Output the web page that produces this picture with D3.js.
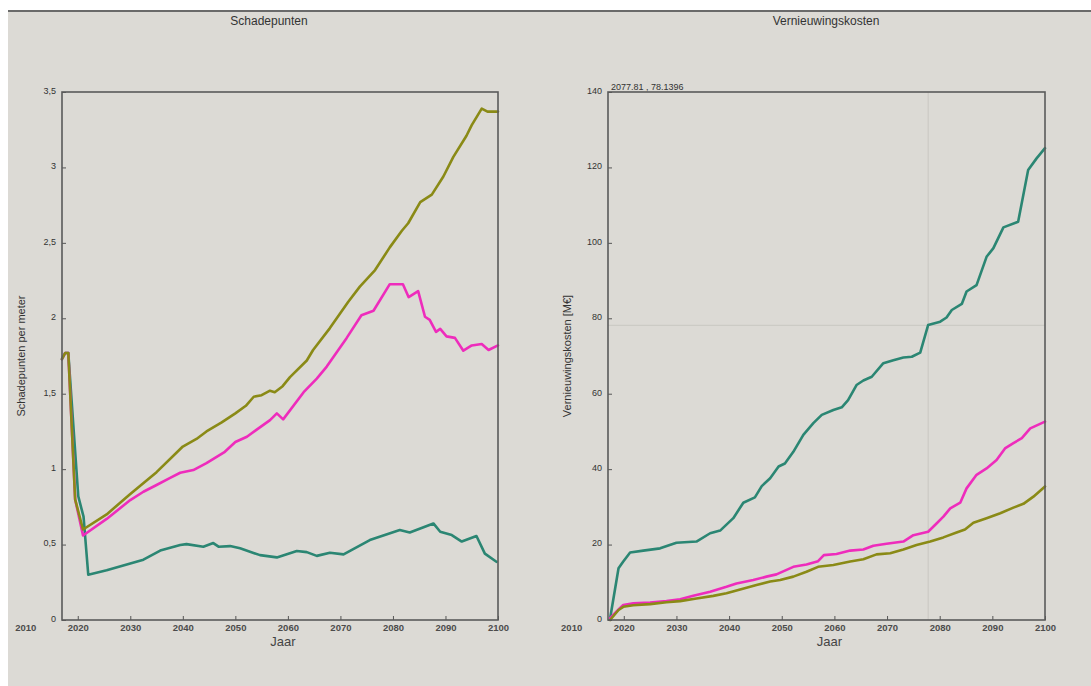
<!DOCTYPE html>
<html>
<head>
<meta charset="utf-8">
<script src="https://cdn.jsdelivr.net/npm/d3@7"></script>
<style>
  html, body { margin: 0; padding: 0; background: #ffffff; }
  svg { display: block; font-family: "Liberation Sans", Arial, sans-serif; }
</style>
</head>
<body>
<svg id="chart" width="1091" height="686"></svg>
<script>
// ---- Schadepunten per meter (left panel) ----
const schadeOliveYears = [2017, 2017.6, 2018.2, 2019.5, 2021, 2025.5, 2030, 2035, 2040, 2042.6, 2044.5, 2047.4, 2050, 2052, 2053.5, 2055, 2056.6, 2057.5, 2059, 2060.4, 2063.6, 2064.8, 2068, 2071.5, 2073.7, 2076.6, 2079.4, 2081.7, 2082.9, 2085.2, 2087.4, 2089.6, 2091.5, 2094, 2095, 2096.9, 2098, 2100];
const schadeOliveValues = [1.73, 1.77, 1.77, 0.80, 0.60, 0.70, 0.835, 0.98, 1.15, 1.20, 1.25, 1.31, 1.37, 1.42, 1.48, 1.49, 1.52, 1.51, 1.55, 1.61, 1.72, 1.79, 1.935, 2.11, 2.21, 2.32, 2.47, 2.58, 2.63, 2.77, 2.82, 2.94, 3.07, 3.21, 3.28, 3.39, 3.37, 3.37];

const schadeMagentaYears = [2017, 2017.6, 2018.2, 2019.5, 2021, 2025.5, 2030, 2032.5, 2035, 2037.5, 2039.5, 2042, 2044.5, 2048, 2050, 2052.2, 2054, 2056.6, 2057.9, 2059.1, 2063, 2065.5, 2067.4, 2071.2, 2074, 2076.3, 2079.4, 2081.9, 2083, 2084.8, 2086.1, 2087, 2088.2, 2089, 2090.2, 2091.8, 2093.4, 2095, 2096.9, 2098.2, 2100];
const schadeMagentaValues = [1.73, 1.77, 1.77, 0.80, 0.56, 0.67, 0.795, 0.85, 0.895, 0.94, 0.976, 0.994, 1.04, 1.115, 1.18, 1.215, 1.26, 1.325, 1.37, 1.33, 1.51, 1.60, 1.68, 1.87, 2.02, 2.05, 2.226, 2.226, 2.14, 2.18, 2.01, 1.99, 1.91, 1.93, 1.88, 1.87, 1.785, 1.82, 1.83, 1.79, 1.82];

const schadeTealYears = [2017, 2017.6, 2018.2, 2020.1, 2021.1, 2022, 2025.5, 2030, 2032.5, 2035.7, 2039.5, 2040.7, 2043.9, 2045.8, 2046.8, 2049, 2050.9, 2054.7, 2057.9, 2061.7, 2063.6, 2065.5, 2068, 2070.6, 2075.6, 2081.3, 2083.2, 2087.7, 2089, 2091.2, 2093.1, 2095.9, 2097.5, 2099.7];
const schadeTealValues = [1.73, 1.77, 1.77, 0.82, 0.685, 0.30, 0.33, 0.375, 0.40, 0.46, 0.497, 0.503, 0.486, 0.51, 0.486, 0.49, 0.475, 0.43, 0.415, 0.457, 0.45, 0.425, 0.446, 0.435, 0.53, 0.596, 0.58, 0.64, 0.585, 0.563, 0.52, 0.557, 0.44, 0.386];

// ---- Vernieuwingskosten [M€] (right panel) ----
const kostenTealYears = [2017.4, 2019, 2019.9, 2021.2, 2023.7, 2026.9, 2030, 2033.8, 2036.4, 2038.3, 2040.8, 2042.7, 2044.9, 2046.2, 2047.8, 2049.4, 2050.6, 2052.2, 2054.1, 2056, 2057.6, 2059.8, 2061.4, 2062.6, 2064.2, 2065.5, 2067.1, 2069.3, 2071.2, 2073.1, 2074.7, 2076.3, 2077.8, 2080.1, 2081.3, 2082.3, 2084.2, 2085.1, 2087, 2088.9, 2090.2, 2092.1, 2094.9, 2096.8, 2098.4, 2100];
const kostenTealValues = [0.4, 13.7, 15.5, 17.9, 18.4, 19.0, 20.5, 20.8, 23.0, 23.7, 27.0, 31.1, 32.5, 35.5, 37.6, 40.7, 41.5, 44.6, 49.1, 52.2, 54.4, 55.7, 56.4, 58.3, 62.3, 63.5, 64.5, 68.1, 68.9, 69.6, 69.8, 70.9, 78.2, 79.1, 80.2, 82.2, 83.8, 87.1, 88.8, 96.3, 98.6, 104.1, 105.6, 119.3, 122.4, 125.1];

const kostenMagentaYears = [2017.4, 2019, 2019.9, 2021.8, 2025, 2028.1, 2030.7, 2033.2, 2036.4, 2039.5, 2041.4, 2044.6, 2047.1, 2049, 2052.2, 2054.7, 2056.9, 2058, 2060.4, 2063, 2065.5, 2067.4, 2069.9, 2073.1, 2075, 2077.8, 2079.4, 2080.7, 2082, 2083.9, 2085.1, 2087, 2088.9, 2090.8, 2092.4, 2094, 2095.6, 2097.2, 2100];
const kostenMagentaValues = [0.5, 2.8, 4.0, 4.4, 4.6, 5.0, 5.5, 6.4, 7.5, 8.8, 9.7, 10.6, 11.5, 12.1, 14.1, 14.7, 15.6, 17.2, 17.5, 18.4, 18.7, 19.7, 20.2, 20.8, 22.5, 23.4, 25.6, 27.4, 29.6, 31.1, 34.9, 38.5, 40.2, 42.4, 45.5, 46.9, 48.2, 50.8, 52.6];

const kostenOliveYears = [2017.4, 2019, 2019.9, 2021.8, 2025, 2028.1, 2030.7, 2033.8, 2037, 2039.5, 2042.1, 2045.2, 2047.8, 2049.7, 2052.2, 2054.7, 2056.9, 2059.8, 2063, 2065.5, 2068, 2070.6, 2073.1, 2075.6, 2078.2, 2080.7, 2083.2, 2084.8, 2086.4, 2088.9, 2091.5, 2094, 2095.9, 2097.8, 2100];
const kostenOliveValues = [0, 2.65, 3.5, 3.9, 4.2, 4.7, 5.0, 5.7, 6.4, 7.1, 8.1, 9.3, 10.2, 10.6, 11.5, 12.8, 14.1, 14.6, 15.5, 16.1, 17.4, 17.7, 18.7, 19.9, 20.8, 21.9, 23.2, 24.0, 25.8, 27.0, 28.3, 29.8, 30.8, 32.7, 35.4];

// Axis ticks and labels
const yearTicks = [2010, 2020, 2030, 2040, 2050, 2060, 2070, 2080, 2090, 2100];
const schadeTicks = [0, 0.5, 1, 1.5, 2, 2.5, 3, 3.5];
const kostenTicks = [0, 20, 40, 60, 80, 100, 120, 140];

// Cursor read-out in the cost panel
const cursorYear = 2077.81;
const cursorValue = 78.1396;

const colors = { olive: "#8a8a16", magenta: "#ee2cbc", teal: "#2b8673" };
const bg = "#dcdad5";

const svg = d3.select("#chart");

// window background and top separator
svg.append("rect").attr("x", 8).attr("y", 11).attr("width", 1083).attr("height", 675).attr("fill", bg);
svg.append("line").attr("x1", 8).attr("x2", 1091).attr("y1", 11).attr("y2", 11)
  .attr("stroke", "#6a6a6a").attr("stroke-width", 2);

const commaFmt = d => String(d).replace(".", ",");

function panel(opts) {
  const g = svg.append("g");
  const x = d3.scaleLinear().domain([2017, 2100]).range([opts.left, opts.right]);
  const y = d3.scaleLinear().domain([0, opts.yMax]).range([opts.bottom, opts.top]);

  // title
  g.append("text").attr("x", opts.titleX).attr("y", 25).attr("text-anchor", "middle")
    .attr("font-size", 12).attr("fill", "#333").text(opts.title);

  // crosshair
  if (opts.cursor) {
    g.append("line").attr("x1", x(opts.cursor[0])).attr("x2", x(opts.cursor[0]))
      .attr("y1", opts.top).attr("y2", opts.bottom).attr("stroke", "#c9c7c1").attr("stroke-width", 1);
    g.append("line").attr("x1", opts.left).attr("x2", opts.right)
      .attr("y1", y(opts.cursor[1])).attr("y2", y(opts.cursor[1])).attr("stroke", "#c9c7c1").attr("stroke-width", 1);
  }

  // series
  const line = d3.line().x(d => x(d[0])).y(d => y(d[1]));
  opts.series.forEach(s => {
    const pts = s.years.map((yr, i) => [yr, s.values[i]]);
    g.append("path").datum(pts).attr("d", line).attr("fill", "none")
      .attr("stroke", s.color).attr("stroke-width", 2.6)
      .attr("stroke-linejoin", "round").attr("stroke-linecap", "round");
  });

  // x axis (ticks point into the plot)
  const xAxis = d3.axisBottom(x).tickValues(yearTicks).tickSize(-4).tickPadding(4).tickFormat(d3.format("d"));
  const xg = g.append("g").attr("transform", `translate(0,${opts.bottom})`).call(xAxis);
  xg.select(".domain").remove();
  xg.selectAll(".tick line").attr("stroke", "#555").filter(d => d < 2017).remove();
  xg.selectAll(".tick text").attr("font-size", 9.5).attr("fill", "#333")
    .attr("font-family", "'Liberation Sans', Arial, sans-serif").attr("font-weight", "bold").attr("opacity", 0.85);

  // y axis
  const yAxis = d3.axisLeft(y).tickValues(opts.yTicks).tickSize(-4).tickPadding(6).tickFormat(commaFmt);
  const yg = g.append("g").attr("transform", `translate(${opts.left},0)`).call(yAxis);
  yg.select(".domain").remove();
  yg.selectAll(".tick line").attr("stroke", "#555");
  yg.selectAll(".tick text").attr("font-size", 9).attr("fill", "#333")
    .attr("font-family", "'Liberation Sans', Arial, sans-serif").attr("dy", "0.15em");

  // frame
  g.append("rect").attr("x", opts.left).attr("y", opts.top)
    .attr("width", opts.right - opts.left).attr("height", opts.bottom - opts.top)
    .attr("fill", "none").attr("stroke", "#5a5a5a").attr("stroke-width", 1.6);

  // axis titles
  g.append("text").attr("x", (opts.left + opts.right) / 2 + 3).attr("y", opts.bottom + 26)
    .attr("text-anchor", "middle").attr("font-size", 13).attr("fill", "#444").text("Jaar");
  g.append("text").attr("transform", `translate(${opts.yTitleX},${(opts.top + opts.bottom) / 2}) rotate(-90)`)
    .attr("text-anchor", "middle").attr("font-size", 11).attr("fill", "#333").text(opts.yTitle);

  if (opts.cursor) {
    g.append("text").attr("x", opts.left + 3).attr("y", opts.top - 2)
      .attr("font-size", 9).attr("fill", "#333")
      .text(`${opts.cursor[0]} , ${opts.cursor[1]}`);
  }
}

panel({
  title: "Schadepunten", titleX: 269,
  left: 62, right: 498, top: 92, bottom: 620, yMax: 3.5,
  yTicks: schadeTicks, yTitle: "Schadepunten per meter", yTitleX: 25,
  series: [
    { years: schadeTealYears, values: schadeTealValues, color: colors.teal },
    { years: schadeMagentaYears, values: schadeMagentaValues, color: colors.magenta },
    { years: schadeOliveYears, values: schadeOliveValues, color: colors.olive }
  ]
});

panel({
  title: "Vernieuwingskosten", titleX: 826,
  left: 608, right: 1045, top: 92, bottom: 620, yMax: 140,
  yTicks: kostenTicks, yTitle: "Vernieuwingskosten [M€]", yTitleX: 571,
  cursor: [cursorYear, cursorValue],
  series: [
    { years: kostenTealYears, values: kostenTealValues, color: colors.teal },
    { years: kostenMagentaYears, values: kostenMagentaValues, color: colors.magenta },
    { years: kostenOliveYears, values: kostenOliveValues, color: colors.olive }
  ]
});
</script>
</body>
</html>
